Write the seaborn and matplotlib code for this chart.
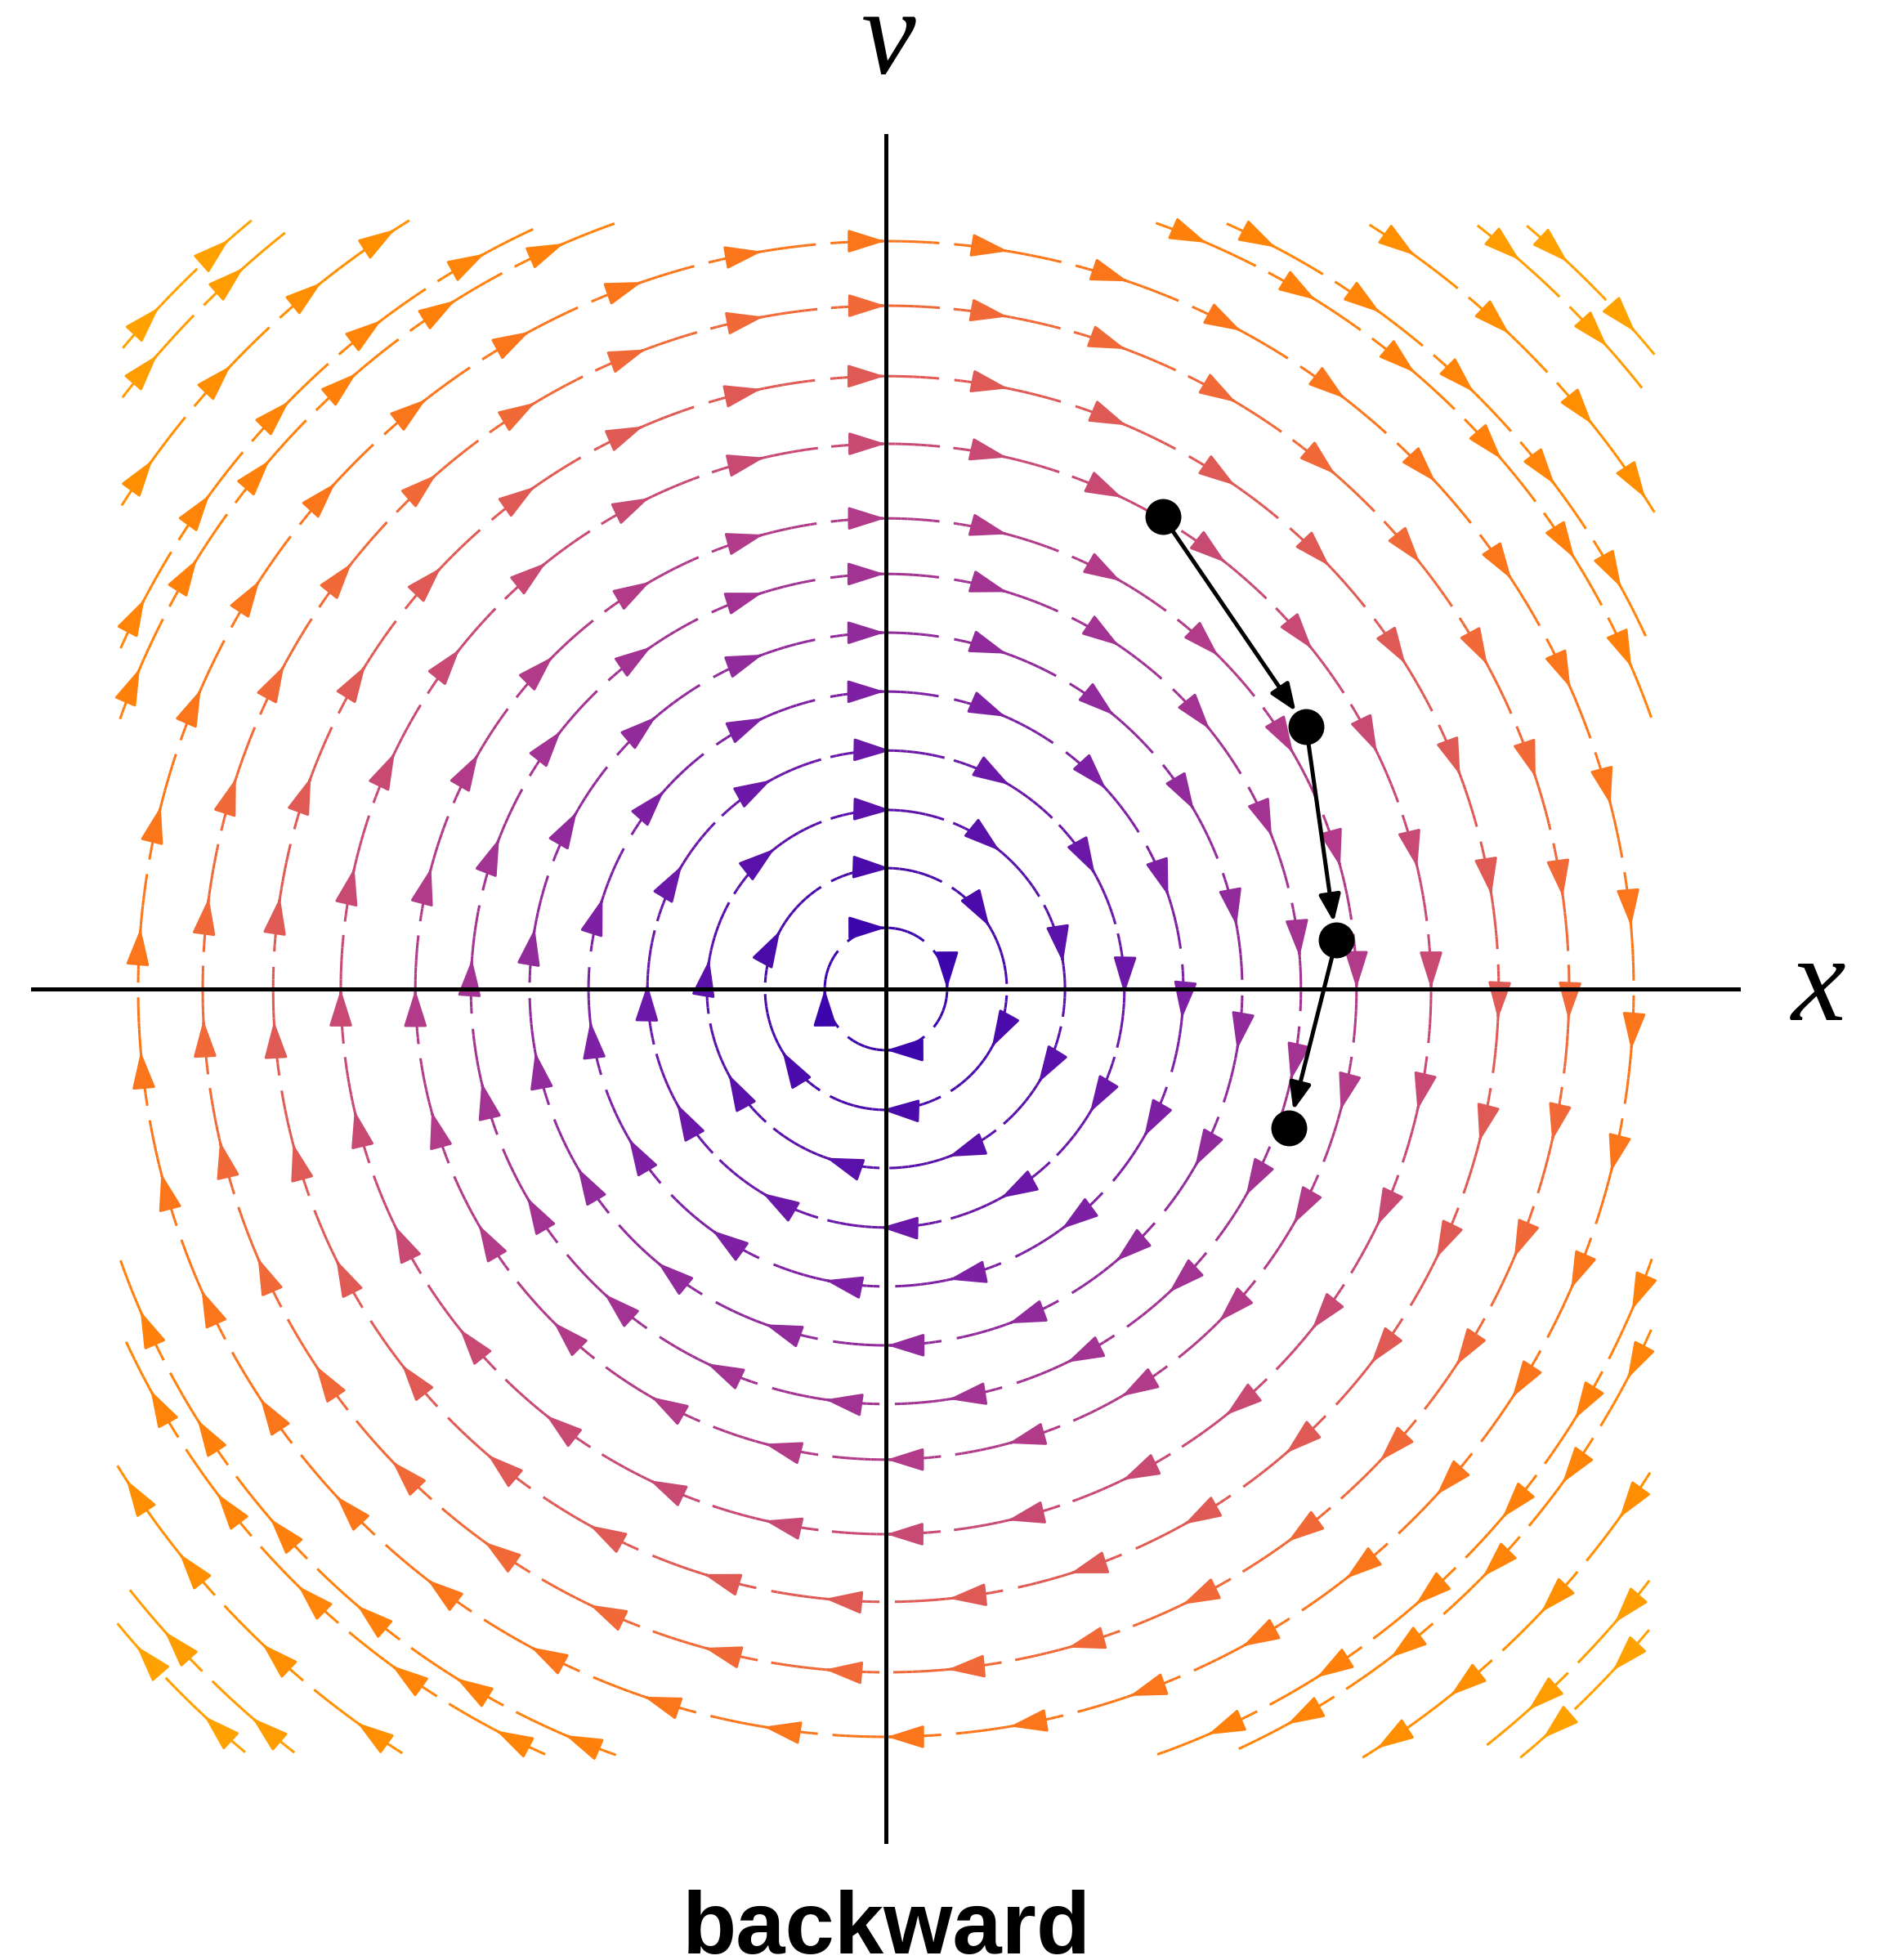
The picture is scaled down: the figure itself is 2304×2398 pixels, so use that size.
import numpy as np
import matplotlib
matplotlib.use("Agg")
import matplotlib.pyplot as plt
from matplotlib.colors import Normalize
import seaborn as sns

# closed stream rings (radius in field units) and number of arrows on each
ring_radius = [0.239, 0.472, 0.699, 0.931, 1.161, 1.391, 1.620, 1.837, 2.128, 2.392, 2.667, 2.919]
ring_arrows = [4, 6, 9, 12, 15, 18, 21, 24, 28, 31, 35, 38]
# arcs that only show up in the corners of the square
corner_radius = [3.17, 3.27, 3.53, 3.77, 3.89]
corner_seg = 0.48

# backward euler steps (x, v)
step_x = [1.081, 1.640, 1.758, 1.573]
step_v = [1.844, 1.025, 0.191, -0.542]

# colour by speed, 0 .. 4 in steps of 0.5
speed_colors = ["#3000b0", "#4c0caa", "#7019a8", "#9a2e98", "#bc4280",
                "#e8604a", "#ff7a10", "#ff8c00", "#ffa800"]

lim = 3.0
axlim = 3.337
gap = 0.012

sns.set_theme(style="white")
cmap = sns.blend_palette(speed_colors, as_cmap=True)
norm = Normalize(0, 4)

xs = np.linspace(-lim, lim, 121)
X, Y = np.meshgrid(xs, xs)
U, V = Y, -X
S = np.hypot(U, V)

fig = plt.figure(figsize=(11.52, 11.99), dpi=200)
ax = fig.add_axes([38 / 2304, 1 - 2256 / 2398, 2092 / 2304, 2092 / 2398])


def stream(seeds, seg):
    ax.streamplot(X, Y, U, V, start_points=np.array(seeds), color=S, cmap=cmap, norm=norm,
                  linewidth=1.1, arrowsize=2,
                  arrowstyle="-|>,head_length=0.7,head_width=0.22",
                  integration_direction="forward", broken_streamlines=False,
                  maxlength=(seg - gap) / (2 * lim), minlength=0.01,
                  density=8, zorder=1)


for r, n in zip(ring_radius, ring_arrows):
    d = 2 * np.pi / n
    th = np.pi / 2 + d / 2 - d * np.arange(n)
    stream(np.c_[r * np.cos(th), r * np.sin(th)], r * d)

for r in corner_radius:
    h = np.sqrt(r ** 2 - lim ** 2)
    d = corner_seg / r
    t_in, t_out = np.arctan2(lim, h), np.arctan2(h, lim)
    seeds = []
    for q in range(4):
        t = t_in - 0.002 - q * np.pi / 2
        while t > t_out - q * np.pi / 2 + 0.12 / r:
            seeds.append((r * np.cos(t), r * np.sin(t)))
            t -= d
    stream(seeds, corner_seg)

ax.axhline(0, color="black", lw=1.8, zorder=3)
ax.axvline(0, color="black", lw=1.8, zorder=3)

for i in range(len(step_x) - 1):
    ax.annotate("", xy=(step_x[i + 1], step_v[i + 1]), xytext=(step_x[i], step_v[i]),
                arrowprops=dict(arrowstyle="-|>,head_length=0.5,head_width=0.2",
                                mutation_scale=20, lw=1.8, color="black",
                                shrinkA=0, shrinkB=8), zorder=4)
sns.scatterplot(x=step_x, y=step_v, color="black", s=250, linewidth=0, ax=ax, zorder=5)

ax.set_xlim(-axlim, axlim)
ax.set_ylim(-axlim, axlim)
ax.axis("off")

fig.text(1087 / 2304, 1 - 90 / 2398, "v", ha="center", va="baseline", fontsize=54,
         family="Liberation Serif", style="italic", color="black")
fig.text(2225 / 2304, 1 - 1248 / 2398, "x", ha="center", va="baseline", fontsize=54,
         family="Liberation Serif", style="italic", color="black")
fig.text(1085 / 2304, 1 - 2390 / 2398, "backward", ha="center", va="baseline", fontsize=39,
         family="Liberation Sans", weight="bold", color="black")

fig.savefig("out.png", dpi=200)
